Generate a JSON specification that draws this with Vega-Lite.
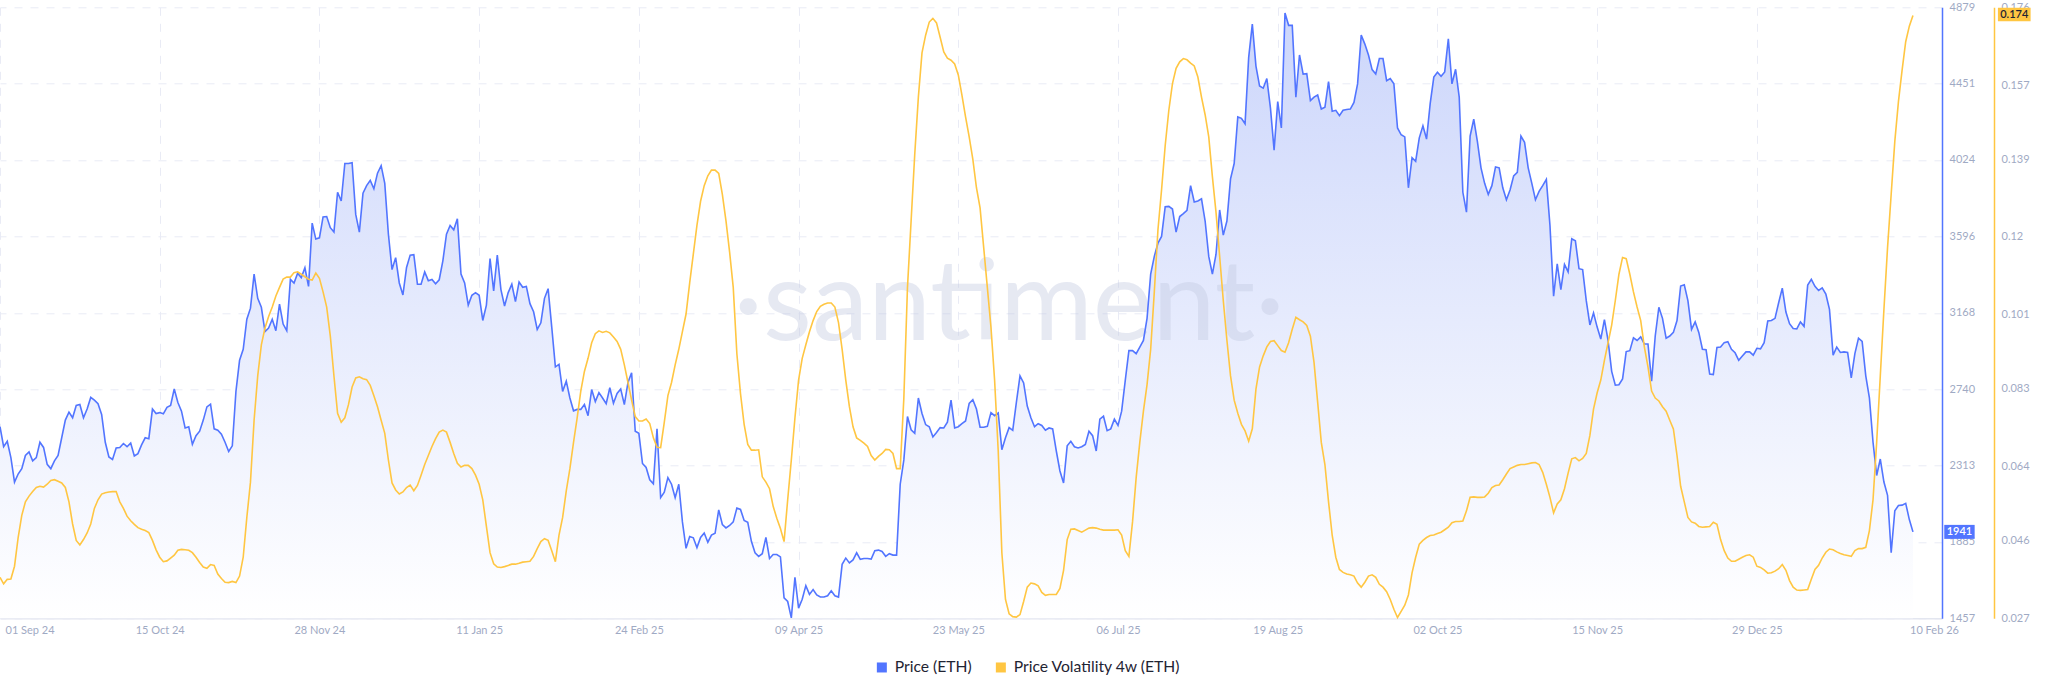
{
  "$schema": "https://vega.github.io/schema/vega-lite/v6.json",
  "autosize": "none",
  "width": 1942,
  "height": 611,
  "padding": {"left": 0, "top": 7.3, "right": 106, "bottom": 74.7},
  "background": "#ffffff",
  "config": {
    "view": {"stroke": null},
    "font": "Lato",
    "axis": {"labelFont": "Lato", "labelFontSize": 11, "labelColor": "#9faac4", "ticks": false, "title": null}
  },
  "datasets": {
    "eth": [
      {"date":"2024-09-01","price":2530,"vol":0.0370},{"date":"2024-09-02","price":2418,"vol":0.0354},{"date":"2024-09-03","price":2448,"vol":0.0365},{"date":"2024-09-04","price":2357,"vol":0.0366},{"date":"2024-09-05","price":2220,"vol":0.0397},{"date":"2024-09-06","price":2265,"vol":0.0467},{"date":"2024-09-07","price":2295,"vol":0.0521},{"date":"2024-09-08","price":2369,"vol":0.0554},{"date":"2024-09-09","price":2389,"vol":0.0568},{"date":"2024-09-10","price":2339,"vol":0.0579},
      {"date":"2024-09-11","price":2357,"vol":0.0589},{"date":"2024-09-12","price":2443,"vol":0.0592},{"date":"2024-09-13","price":2414,"vol":0.0590},{"date":"2024-09-14","price":2319,"vol":0.0597},{"date":"2024-09-15","price":2295,"vol":0.0606},{"date":"2024-09-16","price":2339,"vol":0.0608},{"date":"2024-09-17","price":2369,"vol":0.0604},{"date":"2024-09-18","price":2468,"vol":0.0600},{"date":"2024-09-19","price":2567,"vol":0.0589},{"date":"2024-09-20","price":2612,"vol":0.0554},
      {"date":"2024-09-21","price":2580,"vol":0.0500},{"date":"2024-09-22","price":2649,"vol":0.0460},{"date":"2024-09-23","price":2654,"vol":0.0449},{"date":"2024-09-24","price":2580,"vol":0.0462},{"date":"2024-09-25","price":2629,"vol":0.0478},{"date":"2024-09-26","price":2694,"vol":0.0500},{"date":"2024-09-27","price":2679,"vol":0.0538},{"date":"2024-09-28","price":2659,"vol":0.0559},{"date":"2024-09-29","price":2599,"vol":0.0573},{"date":"2024-09-30","price":2443,"vol":0.0576},
      {"date":"2024-10-01","price":2361,"vol":0.0578},{"date":"2024-10-02","price":2347,"vol":0.0579},{"date":"2024-10-03","price":2411,"vol":0.0579},{"date":"2024-10-04","price":2414,"vol":0.0554},{"date":"2024-10-05","price":2436,"vol":0.0538},{"date":"2024-10-06","price":2418,"vol":0.0519},{"date":"2024-10-07","price":2438,"vol":0.0508},{"date":"2024-10-08","price":2366,"vol":0.0499},{"date":"2024-10-09","price":2379,"vol":0.0491},{"date":"2024-10-10","price":2428,"vol":0.0487},
      {"date":"2024-10-11","price":2468,"vol":0.0484},{"date":"2024-10-12","price":2463,"vol":0.0479},{"date":"2024-10-13","price":2629,"vol":0.0460},{"date":"2024-10-14","price":2604,"vol":0.0437},{"date":"2024-10-15","price":2609,"vol":0.0419},{"date":"2024-10-16","price":2602,"vol":0.0408},{"date":"2024-10-17","price":2639,"vol":0.0410},{"date":"2024-10-18","price":2649,"vol":0.0417},{"date":"2024-10-19","price":2741,"vol":0.0424},{"date":"2024-10-20","price":2666,"vol":0.0436},
      {"date":"2024-10-21","price":2617,"vol":0.0438},{"date":"2024-10-22","price":2523,"vol":0.0437},{"date":"2024-10-23","price":2530,"vol":0.0436},{"date":"2024-10-24","price":2431,"vol":0.0430},{"date":"2024-10-25","price":2480,"vol":0.0419},{"date":"2024-10-26","price":2505,"vol":0.0406},{"date":"2024-10-27","price":2567,"vol":0.0395},{"date":"2024-10-28","price":2641,"vol":0.0392},{"date":"2024-10-29","price":2656,"vol":0.0401},{"date":"2024-10-30","price":2518,"vol":0.0399},
      {"date":"2024-10-31","price":2510,"vol":0.0378},{"date":"2024-11-01","price":2488,"vol":0.0367},{"date":"2024-11-02","price":2443,"vol":0.0358},{"date":"2024-11-03","price":2391,"vol":0.0357},{"date":"2024-11-04","price":2423,"vol":0.0360},{"date":"2024-11-05","price":2728,"vol":0.0357},{"date":"2024-11-06","price":2902,"vol":0.0373},{"date":"2024-11-07","price":2964,"vol":0.0419},{"date":"2024-11-08","price":3132,"vol":0.0516},{"date":"2024-11-09","price":3194,"vol":0.0602},
      {"date":"2024-11-10","price":3385,"vol":0.0753},{"date":"2024-11-11","price":3249,"vol":0.0861},{"date":"2024-11-12","price":3199,"vol":0.0937},{"date":"2024-11-13","price":3063,"vol":0.0978},{"date":"2024-11-14","price":3083,"vol":0.1006},{"date":"2024-11-15","price":3132,"vol":0.1029},{"date":"2024-11-16","price":3068,"vol":0.1056},{"date":"2024-11-17","price":3216,"vol":0.1077},{"date":"2024-11-18","price":3105,"vol":0.1097},{"date":"2024-11-19","price":3068,"vol":0.1102},
      {"date":"2024-11-20","price":3355,"vol":0.1102},{"date":"2024-11-21","price":3335,"vol":0.1113},{"date":"2024-11-22","price":3390,"vol":0.1115},{"date":"2024-11-23","price":3365,"vol":0.1109},{"date":"2024-11-24","price":3420,"vol":0.1103},{"date":"2024-11-25","price":3316,"vol":0.1097},{"date":"2024-11-26","price":3670,"vol":0.1095},{"date":"2024-11-27","price":3581,"vol":0.1112},{"date":"2024-11-28","price":3588,"vol":0.1099},{"date":"2024-11-29","price":3705,"vol":0.1066},
      {"date":"2024-11-30","price":3707,"vol":0.1029},{"date":"2024-12-01","price":3645,"vol":0.0958},{"date":"2024-12-02","price":3620,"vol":0.0861},{"date":"2024-12-03","price":3843,"vol":0.0770},{"date":"2024-12-04","price":3794,"vol":0.0748},{"date":"2024-12-05","price":4004,"vol":0.0759},{"date":"2024-12-06","price":4004,"vol":0.0791},{"date":"2024-12-07","price":4009,"vol":0.0834},{"date":"2024-12-08","price":3719,"vol":0.0856},{"date":"2024-12-09","price":3620,"vol":0.0859},
      {"date":"2024-12-10","price":3838,"vol":0.0854},{"date":"2024-12-11","price":3880,"vol":0.0852},{"date":"2024-12-12","price":3910,"vol":0.0838},{"date":"2024-12-13","price":3863,"vol":0.0813},{"date":"2024-12-14","price":3950,"vol":0.0786},{"date":"2024-12-15","price":3992,"vol":0.0753},{"date":"2024-12-16","price":3893,"vol":0.0721},{"date":"2024-12-17","price":3608,"vol":0.0656},{"date":"2024-12-18","price":3410,"vol":0.0600},{"date":"2024-12-19","price":3477,"vol":0.0583},
      {"date":"2024-12-20","price":3335,"vol":0.0573},{"date":"2024-12-21","price":3268,"vol":0.0578},{"date":"2024-12-22","price":3422,"vol":0.0589},{"date":"2024-12-23","price":3491,"vol":0.0595},{"date":"2024-12-24","price":3494,"vol":0.0581},{"date":"2024-12-25","price":3328,"vol":0.0594},{"date":"2024-12-26","price":3328,"vol":0.0619},{"date":"2024-12-27","price":3397,"vol":0.0645},{"date":"2024-12-28","price":3348,"vol":0.0667},{"date":"2024-12-29","price":3355,"vol":0.0689},
      {"date":"2024-12-30","price":3330,"vol":0.0708},{"date":"2024-12-31","price":3353,"vol":0.0724},{"date":"2025-01-01","price":3459,"vol":0.0729},{"date":"2025-01-02","price":3608,"vol":0.0724},{"date":"2025-01-03","price":3657,"vol":0.0699},{"date":"2025-01-04","price":3633,"vol":0.0672},{"date":"2025-01-05","price":3695,"vol":0.0648},{"date":"2025-01-06","price":3385,"vol":0.0639},{"date":"2025-01-07","price":3335,"vol":0.0643},{"date":"2025-01-08","price":3211,"vol":0.0643},
      {"date":"2025-01-09","price":3266,"vol":0.0635},{"date":"2025-01-10","price":3281,"vol":0.0619},{"date":"2025-01-11","price":3266,"vol":0.0597},{"date":"2025-01-12","price":3125,"vol":0.0559},{"date":"2025-01-13","price":3211,"vol":0.0494},{"date":"2025-01-14","price":3472,"vol":0.0430},{"date":"2025-01-15","price":3291,"vol":0.0403},{"date":"2025-01-16","price":3491,"vol":0.0395},{"date":"2025-01-17","price":3298,"vol":0.0394},{"date":"2025-01-18","price":3206,"vol":0.0396},
      {"date":"2025-01-19","price":3281,"vol":0.0399},{"date":"2025-01-20","price":3328,"vol":0.0402},{"date":"2025-01-21","price":3231,"vol":0.0402},{"date":"2025-01-22","price":3340,"vol":0.0404},{"date":"2025-01-23","price":3311,"vol":0.0407},{"date":"2025-01-24","price":3316,"vol":0.0408},{"date":"2025-01-25","price":3219,"vol":0.0409},{"date":"2025-01-26","price":3174,"vol":0.0421},{"date":"2025-01-27","price":3075,"vol":0.0440},{"date":"2025-01-28","price":3112,"vol":0.0457},
      {"date":"2025-01-29","price":3249,"vol":0.0464},{"date":"2025-01-30","price":3303,"vol":0.0460},{"date":"2025-01-31","price":3088,"vol":0.0435},{"date":"2025-02-01","price":2865,"vol":0.0408},{"date":"2025-02-02","price":2879,"vol":0.0473},{"date":"2025-02-03","price":2728,"vol":0.0516},{"date":"2025-02-04","price":2785,"vol":0.0581},{"date":"2025-02-05","price":2691,"vol":0.0635},{"date":"2025-02-06","price":2619,"vol":0.0699},{"date":"2025-02-07","price":2627,"vol":0.0759},
      {"date":"2025-02-08","price":2627,"vol":0.0824},{"date":"2025-02-09","price":2654,"vol":0.0872},{"date":"2025-02-10","price":2592,"vol":0.0904},{"date":"2025-02-11","price":2738,"vol":0.0942},{"date":"2025-02-12","price":2671,"vol":0.0964},{"date":"2025-02-13","price":2721,"vol":0.0971},{"date":"2025-02-14","price":2691,"vol":0.0967},{"date":"2025-02-15","price":2659,"vol":0.0970},{"date":"2025-02-16","price":2748,"vol":0.0966},{"date":"2025-02-17","price":2661,"vol":0.0956},
      {"date":"2025-02-18","price":2716,"vol":0.0945},{"date":"2025-02-19","price":2741,"vol":0.0926},{"date":"2025-02-20","price":2654,"vol":0.0888},{"date":"2025-02-21","price":2778,"vol":0.0845},{"date":"2025-02-22","price":2832,"vol":0.0802},{"date":"2025-02-23","price":2505,"vol":0.0762},{"date":"2025-02-24","price":2493,"vol":0.0751},{"date":"2025-02-25","price":2324,"vol":0.0751},{"date":"2025-02-26","price":2302,"vol":0.0756},{"date":"2025-02-27","price":2233,"vol":0.0745},
      {"date":"2025-02-28","price":2210,"vol":0.0710},{"date":"2025-03-01","price":2518,"vol":0.0687},{"date":"2025-03-02","price":2133,"vol":0.0686},{"date":"2025-03-03","price":2163,"vol":0.0748},{"date":"2025-03-04","price":2245,"vol":0.0813},{"date":"2025-03-05","price":2208,"vol":0.0845},{"date":"2025-03-06","price":2133,"vol":0.0888},{"date":"2025-03-07","price":2208,"vol":0.0926},{"date":"2025-03-08","price":1997,"vol":0.0969},{"date":"2025-03-09","price":1849,"vol":0.1012},
      {"date":"2025-03-10","price":1915,"vol":0.1088},{"date":"2025-03-11","price":1908,"vol":0.1158},{"date":"2025-03-12","price":1853,"vol":0.1228},{"date":"2025-03-13","price":1910,"vol":0.1287},{"date":"2025-03-14","price":1935,"vol":0.1325},{"date":"2025-03-15","price":1883,"vol":0.1349},{"date":"2025-03-16","price":1923,"vol":0.1363},{"date":"2025-03-17","price":1933,"vol":0.1363},{"date":"2025-03-18","price":2064,"vol":0.1355},{"date":"2025-03-19","price":1982,"vol":0.1304},
      {"date":"2025-03-20","price":1963,"vol":0.1239},{"date":"2025-03-21","price":1977,"vol":0.1163},{"date":"2025-03-22","price":1997,"vol":0.1077},{"date":"2025-03-23","price":2074,"vol":0.0915},{"date":"2025-03-24","price":2067,"vol":0.0818},{"date":"2025-03-25","price":2005,"vol":0.0743},{"date":"2025-03-26","price":1995,"vol":0.0694},{"date":"2025-03-27","price":1888,"vol":0.0680},{"date":"2025-03-28","price":1824,"vol":0.0680},{"date":"2025-03-29","price":1804,"vol":0.0681},
      {"date":"2025-03-30","price":1819,"vol":0.0615},{"date":"2025-03-31","price":1910,"vol":0.0602},{"date":"2025-04-01","price":1792,"vol":0.0586},{"date":"2025-04-02","price":1814,"vol":0.0543},{"date":"2025-04-03","price":1814,"vol":0.0514},{"date":"2025-04-04","price":1801,"vol":0.0489},{"date":"2025-04-05","price":1571,"vol":0.0457},{"date":"2025-04-06","price":1551,"vol":0.0559},{"date":"2025-04-07","price":1459,"vol":0.0656},{"date":"2025-04-08","price":1687,"vol":0.0759},
      {"date":"2025-04-09","price":1514,"vol":0.0851},{"date":"2025-04-10","price":1564,"vol":0.0904},{"date":"2025-04-11","price":1640,"vol":0.0937},{"date":"2025-04-12","price":1591,"vol":0.0969},{"date":"2025-04-13","price":1618,"vol":0.0996},{"date":"2025-04-14","price":1588,"vol":0.1018},{"date":"2025-04-15","price":1576,"vol":0.1031},{"date":"2025-04-16","price":1576,"vol":0.1036},{"date":"2025-04-17","price":1583,"vol":0.1039},{"date":"2025-04-18","price":1611,"vol":0.1039},
      {"date":"2025-04-19","price":1583,"vol":0.1029},{"date":"2025-04-20","price":1576,"vol":0.0991},{"date":"2025-04-21","price":1759,"vol":0.0926},{"date":"2025-04-22","price":1794,"vol":0.0851},{"date":"2025-04-23","price":1767,"vol":0.0786},{"date":"2025-04-24","price":1784,"vol":0.0737},{"date":"2025-04-25","price":1824,"vol":0.0710},{"date":"2025-04-26","price":1787,"vol":0.0704},{"date":"2025-04-27","price":1792,"vol":0.0697},{"date":"2025-04-28","price":1792,"vol":0.0689},
      {"date":"2025-04-29","price":1789,"vol":0.0667},{"date":"2025-04-30","price":1836,"vol":0.0656},{"date":"2025-05-01","price":1839,"vol":0.0665},{"date":"2025-05-02","price":1831,"vol":0.0672},{"date":"2025-05-03","price":1804,"vol":0.0682},{"date":"2025-05-04","price":1819,"vol":0.0681},{"date":"2025-05-05","price":1811,"vol":0.0672},{"date":"2025-05-06","price":1811,"vol":0.0635},{"date":"2025-05-07","price":2208,"vol":0.0635},{"date":"2025-05-08","price":2344,"vol":0.0807},
      {"date":"2025-05-09","price":2587,"vol":0.1077},{"date":"2025-05-10","price":2513,"vol":0.1239},{"date":"2025-05-11","price":2493,"vol":0.1401},{"date":"2025-05-12","price":2691,"vol":0.1541},{"date":"2025-05-13","price":2604,"vol":0.1649},{"date":"2025-05-14","price":2542,"vol":0.1692},{"date":"2025-05-15","price":2530,"vol":0.1724},{"date":"2025-05-16","price":2473,"vol":0.1733},{"date":"2025-05-17","price":2498,"vol":0.1722},{"date":"2025-05-18","price":2525,"vol":0.1687},
      {"date":"2025-05-19","price":2523,"vol":0.1651},{"date":"2025-05-20","price":2555,"vol":0.1636},{"date":"2025-05-21","price":2679,"vol":0.1631},{"date":"2025-05-22","price":2523,"vol":0.1622},{"date":"2025-05-23","price":2530,"vol":0.1595},{"date":"2025-05-24","price":2547,"vol":0.1546},{"date":"2025-05-25","price":2562,"vol":0.1493},{"date":"2025-05-26","price":2661,"vol":0.1444},{"date":"2025-05-27","price":2681,"vol":0.1390},{"date":"2025-05-28","price":2629,"vol":0.1320},
      {"date":"2025-05-29","price":2527,"vol":0.1271},{"date":"2025-05-30","price":2527,"vol":0.1174},{"date":"2025-05-31","price":2532,"vol":0.1077},{"date":"2025-06-01","price":2609,"vol":0.0980},{"date":"2025-06-02","price":2592,"vol":0.0851},{"date":"2025-06-03","price":2607,"vol":0.0678},{"date":"2025-06-04","price":2401,"vol":0.0430},{"date":"2025-06-05","price":2468,"vol":0.0316},{"date":"2025-06-06","price":2525,"vol":0.0281},{"date":"2025-06-07","price":2510,"vol":0.0274},
      {"date":"2025-06-08","price":2666,"vol":0.0273},{"date":"2025-06-09","price":2815,"vol":0.0279},{"date":"2025-06-10","price":2775,"vol":0.0311},{"date":"2025-06-11","price":2646,"vol":0.0346},{"date":"2025-06-12","price":2580,"vol":0.0356},{"date":"2025-06-13","price":2530,"vol":0.0354},{"date":"2025-06-14","price":2547,"vol":0.0349},{"date":"2025-06-15","price":2537,"vol":0.0333},{"date":"2025-06-16","price":2510,"vol":0.0326},{"date":"2025-06-17","price":2523,"vol":0.0328},
      {"date":"2025-06-18","price":2518,"vol":0.0328},{"date":"2025-06-19","price":2394,"vol":0.0328},{"date":"2025-06-20","price":2282,"vol":0.0343},{"date":"2025-06-21","price":2215,"vol":0.0387},{"date":"2025-06-22","price":2423,"vol":0.0462},{"date":"2025-06-23","price":2448,"vol":0.0487},{"date":"2025-06-24","price":2418,"vol":0.0488},{"date":"2025-06-25","price":2411,"vol":0.0484},{"date":"2025-06-26","price":2418,"vol":0.0480},{"date":"2025-06-27","price":2431,"vol":0.0485},
      {"date":"2025-06-28","price":2505,"vol":0.0490},{"date":"2025-06-29","price":2480,"vol":0.0491},{"date":"2025-06-30","price":2394,"vol":0.0490},{"date":"2025-07-01","price":2572,"vol":0.0487},{"date":"2025-07-02","price":2589,"vol":0.0485},{"date":"2025-07-03","price":2508,"vol":0.0485},{"date":"2025-07-04","price":2518,"vol":0.0485},{"date":"2025-07-05","price":2572,"vol":0.0485},{"date":"2025-07-06","price":2537,"vol":0.0486},{"date":"2025-07-07","price":2617,"vol":0.0473},
      {"date":"2025-07-08","price":2790,"vol":0.0435},{"date":"2025-07-09","price":2956,"vol":0.0421},{"date":"2025-07-10","price":2956,"vol":0.0505},{"date":"2025-07-11","price":2939,"vol":0.0613},{"date":"2025-07-12","price":2976,"vol":0.0699},{"date":"2025-07-13","price":3013,"vol":0.0775},{"date":"2025-07-14","price":3137,"vol":0.0840},{"date":"2025-07-15","price":3385,"vol":0.0926},{"date":"2025-07-16","price":3484,"vol":0.1066},{"date":"2025-07-17","price":3558,"vol":0.1217},
      {"date":"2025-07-18","price":3596,"vol":0.1315},{"date":"2025-07-19","price":3762,"vol":0.1423},{"date":"2025-07-20","price":3764,"vol":0.1509},{"date":"2025-07-21","price":3749,"vol":0.1574},{"date":"2025-07-22","price":3620,"vol":0.1611},{"date":"2025-07-23","price":3707,"vol":0.1627},{"date":"2025-07-24","price":3724,"vol":0.1635},{"date":"2025-07-25","price":3742,"vol":0.1632},{"date":"2025-07-26","price":3880,"vol":0.1624},{"date":"2025-07-27","price":3789,"vol":0.1617},
      {"date":"2025-07-28","price":3794,"vol":0.1590},{"date":"2025-07-29","price":3806,"vol":0.1541},{"date":"2025-07-30","price":3682,"vol":0.1498},{"date":"2025-07-31","price":3484,"vol":0.1444},{"date":"2025-08-01","price":3385,"vol":0.1347},{"date":"2025-08-02","price":3496,"vol":0.1260},{"date":"2025-08-03","price":3744,"vol":0.1153},{"date":"2025-08-04","price":3603,"vol":0.1045},{"date":"2025-08-05","price":3682,"vol":0.0948},{"date":"2025-08-06","price":3918,"vol":0.0861},
      {"date":"2025-08-07","price":4004,"vol":0.0802},{"date":"2025-08-08","price":4265,"vol":0.0770},{"date":"2025-08-09","price":4257,"vol":0.0743},{"date":"2025-08-10","price":4227,"vol":0.0727},{"date":"2025-08-11","price":4599,"vol":0.0702},{"date":"2025-08-12","price":4785,"vol":0.0732},{"date":"2025-08-13","price":4550,"vol":0.0829},{"date":"2025-08-14","price":4438,"vol":0.0883},{"date":"2025-08-15","price":4426,"vol":0.0910},{"date":"2025-08-16","price":4480,"vol":0.0932},
      {"date":"2025-08-17","price":4314,"vol":0.0945},{"date":"2025-08-18","price":4079,"vol":0.0947},{"date":"2025-08-19","price":4351,"vol":0.0935},{"date":"2025-08-20","price":4203,"vol":0.0923},{"date":"2025-08-21","price":4847,"vol":0.0919},{"date":"2025-08-22","price":4778,"vol":0.0942},{"date":"2025-08-23","price":4778,"vol":0.0975},{"date":"2025-08-24","price":4376,"vol":0.1004},{"date":"2025-08-25","price":4612,"vol":0.0998},{"date":"2025-08-26","price":4505,"vol":0.0993},
      {"date":"2025-08-27","price":4507,"vol":0.0984},{"date":"2025-08-28","price":4356,"vol":0.0958},{"date":"2025-08-29","price":4376,"vol":0.0894},{"date":"2025-08-30","price":4388,"vol":0.0797},{"date":"2025-08-31","price":4309,"vol":0.0699},{"date":"2025-09-01","price":4319,"vol":0.0645},{"date":"2025-09-02","price":4463,"vol":0.0554},{"date":"2025-09-03","price":4297,"vol":0.0473},{"date":"2025-09-04","price":4302,"vol":0.0419},{"date":"2025-09-05","price":4272,"vol":0.0389},
      {"date":"2025-09-06","price":4302,"vol":0.0382},{"date":"2025-09-07","price":4307,"vol":0.0378},{"date":"2025-09-08","price":4309,"vol":0.0376},{"date":"2025-09-09","price":4346,"vol":0.0373},{"date":"2025-09-10","price":4450,"vol":0.0356},{"date":"2025-09-11","price":4723,"vol":0.0346},{"date":"2025-09-12","price":4673,"vol":0.0358},{"date":"2025-09-13","price":4612,"vol":0.0373},{"date":"2025-09-14","price":4530,"vol":0.0376},{"date":"2025-09-15","price":4505,"vol":0.0370},
      {"date":"2025-09-16","price":4592,"vol":0.0353},{"date":"2025-09-17","price":4592,"vol":0.0346},{"date":"2025-09-18","price":4468,"vol":0.0335},{"date":"2025-09-19","price":4480,"vol":0.0316},{"date":"2025-09-20","price":4450,"vol":0.0292},{"date":"2025-09-21","price":4203,"vol":0.0272},{"date":"2025-09-22","price":4165,"vol":0.0287},{"date":"2025-09-23","price":4153,"vol":0.0302},{"date":"2025-09-24","price":3868,"vol":0.0327},{"date":"2025-09-25","price":4037,"vol":0.0381},
      {"date":"2025-09-26","price":4017,"vol":0.0419},{"date":"2025-09-27","price":4148,"vol":0.0451},{"date":"2025-09-28","price":4215,"vol":0.0460},{"date":"2025-09-29","price":4141,"vol":0.0467},{"date":"2025-09-30","price":4339,"vol":0.0472},{"date":"2025-10-01","price":4488,"vol":0.0473},{"date":"2025-10-02","price":4515,"vol":0.0477},{"date":"2025-10-03","price":4493,"vol":0.0480},{"date":"2025-10-04","price":4517,"vol":0.0486},{"date":"2025-10-05","price":4703,"vol":0.0492},
      {"date":"2025-10-06","price":4450,"vol":0.0503},{"date":"2025-10-07","price":4532,"vol":0.0506},{"date":"2025-10-08","price":4376,"vol":0.0506},{"date":"2025-10-09","price":3843,"vol":0.0507},{"date":"2025-10-10","price":3732,"vol":0.0532},{"date":"2025-10-11","price":4158,"vol":0.0565},{"date":"2025-10-12","price":4252,"vol":0.0566},{"date":"2025-10-13","price":4128,"vol":0.0565},{"date":"2025-10-14","price":3980,"vol":0.0565},{"date":"2025-10-15","price":3893,"vol":0.0566},
      {"date":"2025-10-16","price":3831,"vol":0.0575},{"date":"2025-10-17","price":3880,"vol":0.0589},{"date":"2025-10-18","price":3985,"vol":0.0594},{"date":"2025-10-19","price":3980,"vol":0.0595},{"date":"2025-10-20","price":3868,"vol":0.0608},{"date":"2025-10-21","price":3801,"vol":0.0622},{"date":"2025-10-22","price":3856,"vol":0.0635},{"date":"2025-10-23","price":3935,"vol":0.0639},{"date":"2025-10-24","price":3955,"vol":0.0643},{"date":"2025-10-25","price":4158,"vol":0.0645},
      {"date":"2025-10-26","price":4123,"vol":0.0645},{"date":"2025-10-27","price":3980,"vol":0.0647},{"date":"2025-10-28","price":3893,"vol":0.0649},{"date":"2025-10-29","price":3801,"vol":0.0650},{"date":"2025-10-30","price":3848,"vol":0.0645},{"date":"2025-10-31","price":3880,"vol":0.0626},{"date":"2025-11-01","price":3915,"vol":0.0597},{"date":"2025-11-02","price":3657,"vol":0.0565},{"date":"2025-11-03","price":3261,"vol":0.0527},{"date":"2025-11-04","price":3442,"vol":0.0549},
      {"date":"2025-11-05","price":3298,"vol":0.0559},{"date":"2025-11-06","price":3439,"vol":0.0586},{"date":"2025-11-07","price":3397,"vol":0.0624},{"date":"2025-11-08","price":3583,"vol":0.0659},{"date":"2025-11-09","price":3571,"vol":0.0662},{"date":"2025-11-10","price":3415,"vol":0.0654},{"date":"2025-11-11","price":3410,"vol":0.0660},{"date":"2025-11-12","price":3236,"vol":0.0672},{"date":"2025-11-13","price":3100,"vol":0.0716},{"date":"2025-11-14","price":3167,"vol":0.0780},
      {"date":"2025-11-15","price":3088,"vol":0.0820},{"date":"2025-11-16","price":3021,"vol":0.0851},{"date":"2025-11-17","price":3130,"vol":0.0899},{"date":"2025-11-18","price":3013,"vol":0.0942},{"date":"2025-11-19","price":2840,"vol":0.0985},{"date":"2025-11-20","price":2763,"vol":0.1045},{"date":"2025-11-21","price":2765,"vol":0.1109},{"date":"2025-11-22","price":2798,"vol":0.1150},{"date":"2025-11-23","price":2951,"vol":0.1147},{"date":"2025-11-24","price":2956,"vol":0.1109},
      {"date":"2025-11-25","price":3028,"vol":0.1066},{"date":"2025-11-26","price":3013,"vol":0.1029},{"date":"2025-11-27","price":3033,"vol":0.0996},{"date":"2025-11-28","price":2993,"vol":0.0932},{"date":"2025-11-29","price":2993,"vol":0.0883},{"date":"2025-11-30","price":2785,"vol":0.0824},{"date":"2025-12-01","price":3038,"vol":0.0807},{"date":"2025-12-02","price":3199,"vol":0.0800},{"date":"2025-12-03","price":3137,"vol":0.0786},{"date":"2025-12-04","price":3026,"vol":0.0775},
      {"date":"2025-12-05","price":3038,"vol":0.0753},{"date":"2025-12-06","price":3058,"vol":0.0732},{"date":"2025-12-07","price":3125,"vol":0.0667},{"date":"2025-12-08","price":3318,"vol":0.0592},{"date":"2025-12-09","price":3325,"vol":0.0554},{"date":"2025-12-10","price":3236,"vol":0.0516},{"date":"2025-12-11","price":3075,"vol":0.0505},{"date":"2025-12-12","price":3117,"vol":0.0502},{"date":"2025-12-13","price":3058,"vol":0.0494},{"date":"2025-12-14","price":2964,"vol":0.0492},
      {"date":"2025-12-15","price":2961,"vol":0.0493},{"date":"2025-12-16","price":2825,"vol":0.0494},{"date":"2025-12-17","price":2822,"vol":0.0504},{"date":"2025-12-18","price":2974,"vol":0.0499},{"date":"2025-12-19","price":2976,"vol":0.0462},{"date":"2025-12-20","price":3001,"vol":0.0435},{"date":"2025-12-21","price":3006,"vol":0.0417},{"date":"2025-12-22","price":2964,"vol":0.0409},{"date":"2025-12-23","price":2944,"vol":0.0409},{"date":"2025-12-24","price":2902,"vol":0.0414},
      {"date":"2025-12-25","price":2926,"vol":0.0419},{"date":"2025-12-26","price":2949,"vol":0.0423},{"date":"2025-12-27","price":2949,"vol":0.0425},{"date":"2025-12-28","price":2931,"vol":0.0419},{"date":"2025-12-29","price":2969,"vol":0.0397},{"date":"2025-12-30","price":2966,"vol":0.0394},{"date":"2025-12-31","price":3001,"vol":0.0388},{"date":"2026-01-01","price":3122,"vol":0.0380},{"date":"2026-01-02","price":3125,"vol":0.0381},{"date":"2026-01-03","price":3137,"vol":0.0385},
      {"date":"2026-01-04","price":3224,"vol":0.0391},{"date":"2026-01-05","price":3306,"vol":0.0401},{"date":"2026-01-06","price":3172,"vol":0.0387},{"date":"2026-01-07","price":3107,"vol":0.0362},{"date":"2026-01-08","price":3080,"vol":0.0346},{"date":"2026-01-09","price":3078,"vol":0.0339},{"date":"2026-01-10","price":3117,"vol":0.0338},{"date":"2026-01-11","price":3092,"vol":0.0339},{"date":"2026-01-12","price":3323,"vol":0.0340},{"date":"2026-01-13","price":3355,"vol":0.0365},
      {"date":"2026-01-14","price":3316,"vol":0.0389},{"date":"2026-01-15","price":3293,"vol":0.0399},{"date":"2026-01-16","price":3308,"vol":0.0417},{"date":"2026-01-17","price":3273,"vol":0.0431},{"date":"2026-01-18","price":3187,"vol":0.0439},{"date":"2026-01-19","price":2931,"vol":0.0437},{"date":"2026-01-20","price":2976,"vol":0.0432},{"date":"2026-01-21","price":2946,"vol":0.0428},{"date":"2026-01-22","price":2949,"vol":0.0425},{"date":"2026-01-23","price":2946,"vol":0.0423},
      {"date":"2026-01-24","price":2803,"vol":0.0421},{"date":"2026-01-25","price":2939,"vol":0.0435},{"date":"2026-01-26","price":3026,"vol":0.0440},{"date":"2026-01-27","price":3008,"vol":0.0440},{"date":"2026-01-28","price":2815,"vol":0.0443},{"date":"2026-01-29","price":2691,"vol":0.0484},{"date":"2026-01-30","price":2443,"vol":0.0559},{"date":"2026-01-31","price":2257,"vol":0.0699},{"date":"2026-02-01","price":2349,"vol":0.0861},{"date":"2026-02-02","price":2220,"vol":0.1023},
      {"date":"2026-02-03","price":2146,"vol":0.1174},{"date":"2026-02-04","price":1824,"vol":0.1304},{"date":"2026-02-05","price":2059,"vol":0.1433},{"date":"2026-02-06","price":2089,"vol":0.1530},{"date":"2026-02-07","price":2091,"vol":0.1606},{"date":"2026-02-08","price":2101,"vol":0.1676},{"date":"2026-02-09","price":2010,"vol":0.1714},{"date":"2026-02-10","price":1941,"vol":0.174}
    ],
    "last": [{"date":"2026-02-10","price":1941,"vol":0.174}],
    "watermark": [{"date":"2025-06-06","price":3017,"label":"·santiment·"}]
  },
  "encoding": {
    "x": {
      "field": "date",
      "type": "temporal",
      "scale": {"type": "utc", "domain": ["2024-09-01", "2026-02-18"]},
      "axis": {
        "values": ["2024-09-01","2024-10-15","2024-11-28","2025-01-11","2025-02-24","2025-04-09","2025-05-23","2025-07-06","2025-08-19","2025-10-02","2025-11-15","2025-12-29","2026-02-10"],
        "format": "%d %b %y",
        "labelPadding": 6,
        "domainColor": "#e3e6f0",
        "domainWidth": 1.5,
        "grid": true,
        "gridColor": "#e9ebf5",
        "gridDash": [8, 8],
        "gridOpacity": {"condition": {"test": "utcyear(datum.value) == 2026", "value": 0}, "value": 1},
        "labelOverlap": false,
        "labelOffset": {"condition": [
          {"test": "utcyear(datum.value) == 2024 && utcmonth(datum.value) == 8", "value": 5},
          {"test": "utcyear(datum.value) == 2026", "value": 21}
        ], "value": 0}
      }
    }
  },
  "layer": [
    {
      "encoding": {
        "y": {
          "field": "price",
          "type": "quantitative",
          "scale": {"domain": [1457, 4879], "nice": false, "zero": false},
          "axis": {
            "orient": "right",
            "values": [1457, 1885, 2313, 2740, 3168, 3596, 4024, 4451, 4879],
            "format": "d",
            "domainColor": "#5275ff",
            "domainWidth": 1.5,
            "labelPadding": 7,
            "grid": true,
            "gridColor": "#e9ebf5",
            "gridDash": [8, 8]
          }
        }
      },
      "layer": [
        {
          "data": {"name": "eth"},
          "mark": {
            "type": "area",
            "color": {
              "gradient": "linear", "x1": 0, "y1": 0, "x2": 0, "y2": 1,
              "stops": [{"offset": 0, "color": "#ccd6fb"}, {"offset": 1, "color": "#ffffff"}]
            }
          },
          "encoding": {"y2": {"datum": 1457}}
        },
        {
          "data": {"name": "watermark"},
          "mark": {"type": "text", "font": "Lato", "fontWeight": 400, "fontSize": 113, "align": "center", "baseline": "alphabetic", "opacity": 0.42},
          "encoding": {"text": {"field": "label"}, "color": {"value": "#c4cbe2"}}
        },
        {
          "data": {"name": "eth"},
          "mark": {"type": "line", "strokeWidth": 1.6},
          "encoding": {
            "color": {
              "datum": "Price (ETH)",
              "type": "nominal",
              "scale": {"domain": ["Price (ETH)", "Price Volatility 4w (ETH)"], "range": ["#5275ff", "#ffc642"]},
              "legend": {
                "orient": "none",
                "legendX": 874,
                "legendY": 652,
                "direction": "horizontal",
                "title": null,
                "symbolType": "square",
                "symbolSize": 25,
                "symbolStrokeWidth": 5,
                "labelFont": "Lato",
                "labelFontSize": 15.7,
                "labelLimit": 300,
                "labelColor": "#1f2433",
                "labelOffset": 5,
                "columnPadding": 16
              }
            }
          }
        },
        {
          "data": {"name": "last"},
          "mark": {"type": "rect", "width": 30.4, "height": 14, "xOffset": 46.5},
          "encoding": {"color": {"value": "#5275ff"}}
        },
        {
          "data": {"name": "last"},
          "mark": {"type": "text", "fontSize": 11, "fontWeight": 600, "align": "center", "baseline": "middle", "dx": 46.5},
          "encoding": {"text": {"field": "price"}, "color": {"value": "#ffffff"}}
        }
      ]
    },
    {
      "encoding": {
        "y": {
          "field": "vol",
          "type": "quantitative",
          "scale": {"domain": [0.027, 0.176], "nice": false, "zero": false},
          "axis": {
            "orient": "right",
            "offset": 52,
            "values": [0.027, 0.046, 0.064, 0.083, 0.101, 0.12, 0.139, 0.157, 0.176],
            "format": ".3~f",
            "domainColor": "#ffc642",
            "domainWidth": 1.5,
            "labelPadding": 7,
            "grid": false
          }
        }
      },
      "layer": [
        {
          "data": {"name": "eth"},
          "mark": {"type": "line", "strokeWidth": 1.6},
          "encoding": {"color": {"datum": "Price Volatility 4w (ETH)", "type": "nominal"}}
        },
        {
          "data": {"name": "last"},
          "mark": {"type": "rect", "width": 32.7, "height": 13.4, "xOffset": 101.3, "yOffset": -1},
          "encoding": {"color": {"value": "#ffc642"}}
        },
        {
          "data": {"name": "last"},
          "mark": {"type": "text", "fontSize": 11, "fontWeight": 600, "align": "center", "baseline": "middle", "dx": 101.3, "dy": -1},
          "encoding": {"text": {"field": "vol"}, "color": {"value": "#1f2433"}}
        }
      ]
    }
  ],
  "resolve": {"scale": {"y": "independent"}}
}
